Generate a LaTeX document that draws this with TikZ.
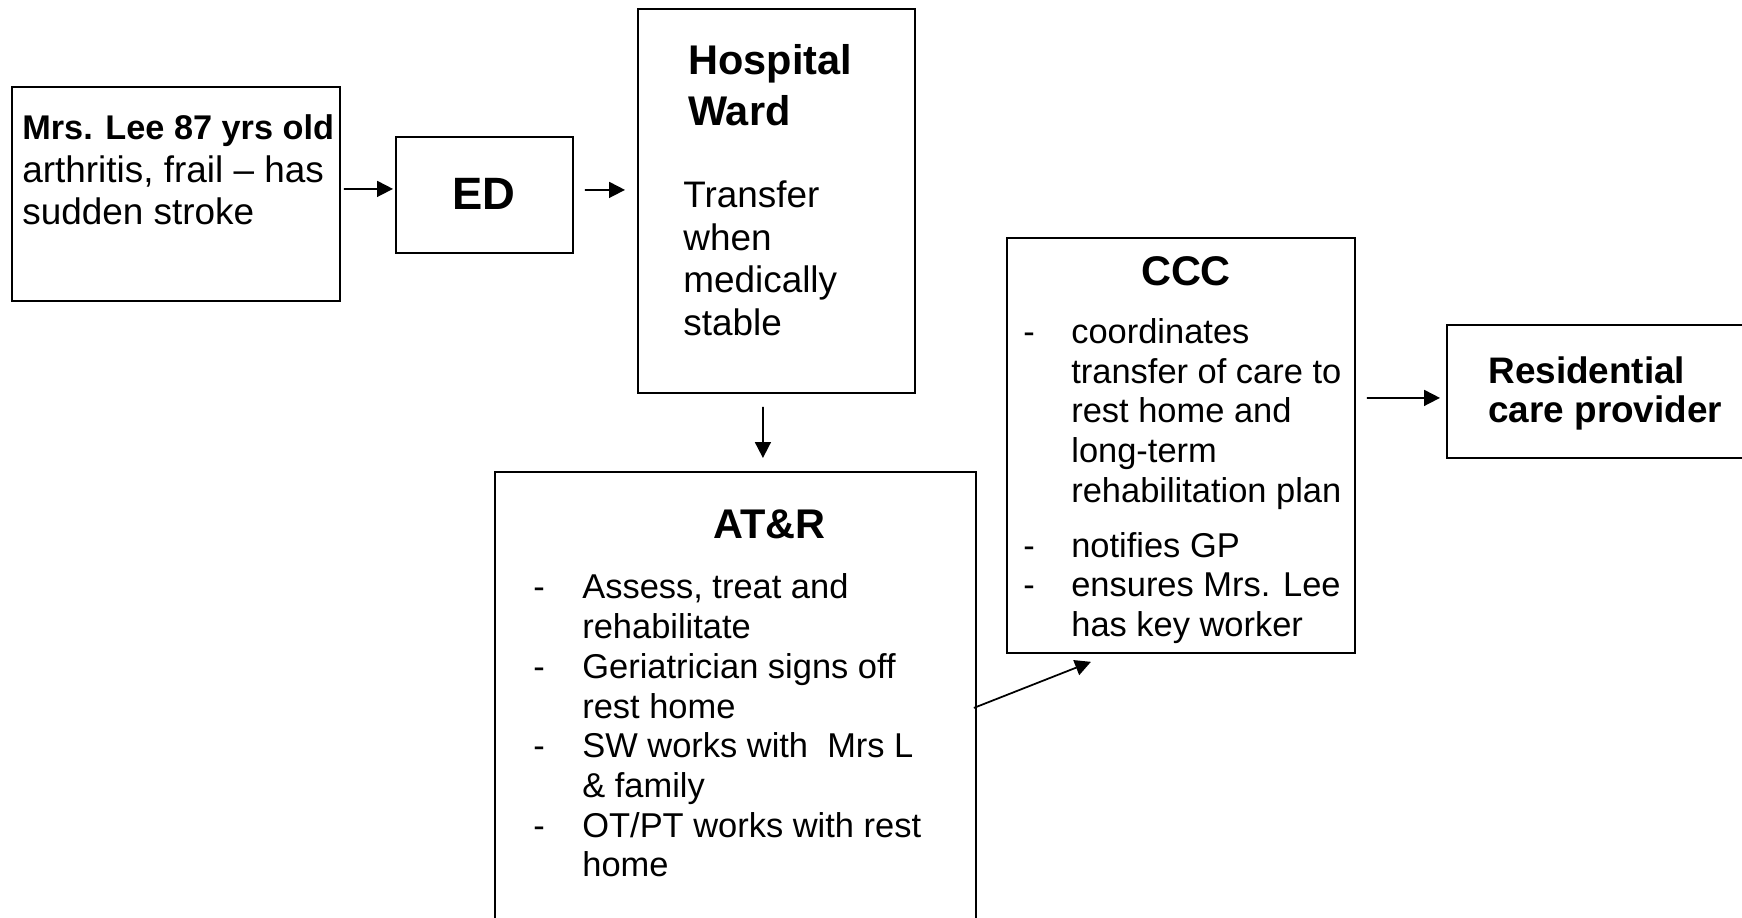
\documentclass[tikz,border=0pt]{standalone}
\usepackage{fontspec}
\setmainfont{Liberation Sans}
\usepackage{tikz}
\usetikzlibrary{arrows.meta,positioning,calc}

\newcommand{\rows}[1]{\begin{tabular}[t]{@{}l@{}}#1\end{tabular}}
\newcommand{\dashrows}[2]{\begin{tabular}[t]{@{}p{#1}@{}l@{}}#2\end{tabular}}

\begin{document}
\begin{tikzpicture}[
		box/.style={draw,line width=1.05pt,inner sep=0pt,anchor=north west},
		arr/.style={-{Triangle[length=9pt,width=9pt]},line width=1pt},
		txt/.style={inner sep=0pt,anchor=base west,font=\fontsize{21}{24.1}\selectfont},
		small/.style={inner sep=0pt,anchor=base west,font=\fontsize{19.6}{22.6}\selectfont},
		head/.style={inner sep=0pt,anchor=base,font=\fontsize{23.6}{29}\selectfont\bfseries}]
		\useasboundingbox (0,0) rectangle (34.84,18.36);
		\clip (0,0) rectangle (34.84,18.36);
		\node[box,minimum width=6.56cm,minimum height=4.28cm] (lee) at (0.22,16.64) {};
		\node[box,minimum width=3.54cm,minimum height=2.32cm] (ed) at (7.9,15.64) {};
		\node[box,minimum width=5.54cm,minimum height=7.68cm] (ward) at (12.74,18.2) {};
		\node[box,minimum width=9.62cm,minimum height=9.2cm] (atr) at (9.88,8.94) {};
		\node[box,minimum width=6.96cm,minimum height=8.3cm] (ccc) at (20.12,13.62) {};
		\node[box,minimum width=6.2cm,minimum height=2.66cm] (res) at (28.92,11.88) {};
		\node[txt] (leetxt) at (0.44,15.56) {\rows{{\fontsize{19.5}{24.1}\selectfont\bfseries Mrs. Lee 87 yrs old}\\ arthritis, frail – has\\ sudden stroke}};
		\node[head,font=\fontsize{25.8}{30}\selectfont\bfseries] (edtxt) at (9.67,14.16) {ED};
		\node[head,anchor=base west] (wardhead) at (13.76,16.86) {\rows{Hospital\\ Ward}};
		\node[txt] (wardtxt) at (13.66,14.2) {\rows{Transfer\\ when\\ medically\\ stable}};
		\node[head] (atrhead) at (15.39,7.58) {AT\&R};
		\node[small] (atrtxt) at (10.66,6.38) {\dashrows{0.98cm}{-&Assess, treat and\\ &rehabilitate\\ -&Geriatrician signs off\\ &rest home\\ -&SW works with\ \ Mrs L\\ &\& family\\ -&OT/PT works with rest\\ &home}};
		\node[head] (ccchead) at (23.72,12.64) {CCC};
		\node[small] (ccctxt) at (20.46,11.49) {\dashrows{0.96cm}{-&coordinates\\ &transfer of care to\\ &rest home and\\ &long-term\\ &rehabilitation plan\\[8.5pt] -&notifies GP\\ -&ensures Mrs. Lee\\ &has key worker}};
		\node[txt,font=\fontsize{21}{22}\selectfont\bfseries] (restxt) at (29.76,10.68) {\rows{Residential\\ care provider}};
		\draw[arr] ([shift={(0.06,0.1)}]lee.east) -- ([shift={(-0.04,0.12)}]ed.west);
		\draw[arr] ([shift={(0.22,0.1)}]ed.east) -- ([shift={(-0.24,0.22)}]ward.west);
		\draw[arr] ([shift={(-0.27,-0.26)}]ward.south) -- ([shift={(0.55,0.26)}]atr.north);
		\draw[arr] ([shift={(-0.06,-0.12)}]atr.east) -- ([shift={(-1.8,-0.16)}]ccc.south);
		\draw[arr] ([shift={(0.22,0.95)}]ccc.east) -- ([shift={(-0.12,-0.13)}]res.west);
	\end{tikzpicture}
\end{document}
